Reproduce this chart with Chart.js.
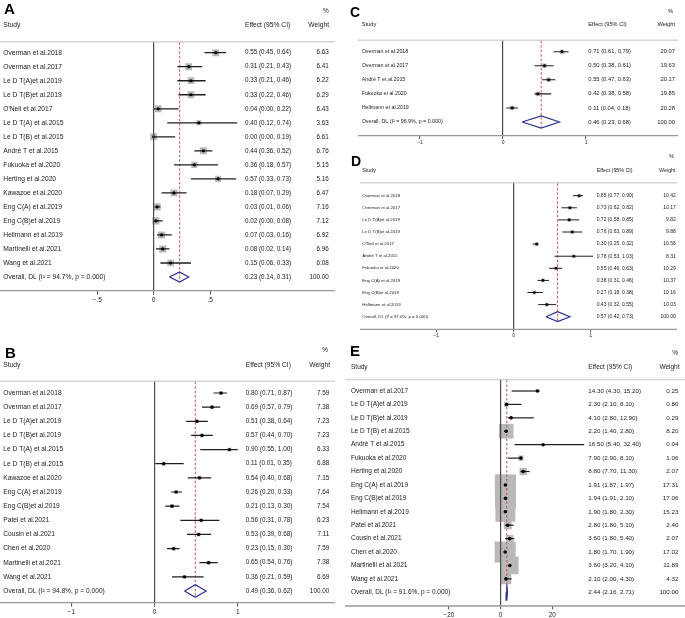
<!DOCTYPE html>
<html><head><meta charset="utf-8">
<script src="https://cdn.jsdelivr.net/npm/chart.js@4.4.1/dist/chart.umd.min.js"></script>
<style>
html,body{margin:0;padding:0;background:#fff;}
body{width:685px;height:618px;position:relative;overflow:hidden;}
canvas{position:absolute;}
</style>
</head><body>
<canvas id="cA" width="340" height="312" style="left:0px;top:0px"></canvas>
<canvas id="cB" width="340" height="303" style="left:0px;top:315px"></canvas>
<canvas id="cC" width="340" height="150" style="left:345px;top:0px"></canvas>
<canvas id="cD" width="340" height="192" style="left:345px;top:150px"></canvas>
<canvas id="cE" width="340" height="278" style="left:345px;top:340px"></canvas>
<script>
// ---------- DATA ----------
const studiesA = ["Overman et al.2018","Overman et al.2017","Le D T(A)et al.2019","Le D T(B)et al.2019","O'Neil et al.2017","Le D T(A) et al.2015","Le D T(B) et al.2015","André T et al.2015","Fukuoka et al.2020","Herting et al.2020","Kawazoe et al.2020","Eng C(A) et al.2019","Eng C(B)et al.2019","Hellmann et al.2019","Martinelli et al.2021","Wang et al.2021"];
const effectA = [0.55,0.31,0.33,0.33,0.04,0.40,0.00,0.44,0.36,0.57,0.18,0.03,0.02,0.07,0.08,0.15];
const lowerA  = [0.45,0.21,0.21,0.22,0.00,0.12,0.00,0.36,0.18,0.33,0.07,0.01,0.00,0.03,0.02,0.06];
const upperA  = [0.64,0.43,0.46,0.46,0.22,0.74,0.19,0.52,0.57,0.73,0.29,0.06,0.08,0.16,0.14,0.33];
const weightA = [6.63,6.41,6.22,6.29,6.43,3.63,6.61,6.76,5.15,5.16,6.47,7.16,7.12,6.92,6.96,6.08];
const overallA = [0.23,0.14,0.31]; const i2A = "94.7%"; const pA = "0.000";
const ticksA = [-0.5,0,0.5]; const tickLabelsA = ["\u2212.5","0",".5"];

const studiesB = ["Overman et al.2018","Overman et al.2017","Le D T(A)et al.2019","Le D T(B)et al.2019","Le D T(A) et al.2015","Le D T(B) et al.2015","Kawazoe et al.2020","Eng C(A) et al.2019","Eng C(B)et al.2019","Patel et al.2021","Cousin et al.2021","Chen et al.2020","Martinelli et al.2021","Wang et al.2021"];
const effectB = [0.80,0.69,0.51,0.57,0.90,0.11,0.54,0.26,0.21,0.56,0.53,0.23,0.65,0.36];
const lowerB  = [0.71,0.57,0.38,0.44,0.55,0.01,0.40,0.20,0.13,0.31,0.39,0.15,0.54,0.21];
const upperB  = [0.87,0.79,0.64,0.70,1.00,0.35,0.68,0.33,0.30,0.78,0.68,0.30,0.76,0.59];
const weightB = [7.59,7.38,7.23,7.23,6.33,6.88,7.15,7.64,7.54,6.23,7.11,7.59,7.38,6.69];
const overallB = [0.49,0.36,0.62]; const i2B = "94.8%"; const pB = "0.000";
const ticksB = [-1,0,1]; const tickLabelsB = ["\u22121","0","1"];

const studiesC = ["Overman et al.2018","Overman et al.2017","André T et al.2015","Fukuoka et al.2020","Hellmann et al.2019"];
const effectC = [0.71,0.50,0.55,0.42,0.11];
const lowerC  = [0.61,0.38,0.47,0.38,0.04];
const upperC  = [0.79,0.61,0.63,0.58,0.18];
const weightC = [20.07,19.63,20.17,19.85,20.28];
const overallC = [0.46,0.23,0.68]; const i2C = "96.9%"; const pC = "0.000";
const ticksC = [-1,0,1]; const tickLabelsC = ["\u22121","0","1"];

const studiesD = ["Overman et al.2018","Overman et al.2017","Le D T(A)et al.2019","Le D T(B)et al.2019","O'Neil et al.2017","André T et al.2015","Fukuoka et al.2020","Eng C(A) et al.2019","Eng C(B)et al.2019","Hellmann et al.2019"];
const effectD = [0.85,0.73,0.72,0.76,0.30,0.78,0.55,0.38,0.27,0.43];
const lowerD  = [0.77,0.62,0.58,0.63,0.25,0.53,0.46,0.31,0.18,0.32];
const upperD  = [0.90,0.82,0.85,0.89,0.32,1.03,0.63,0.46,0.38,0.55];
const weightD = [10.42,10.17,9.82,9.88,10.56,8.31,10.29,10.37,10.16,10.03];
const overallD = [0.57,0.42,0.73]; const i2D = "97.0%"; const pD = "0.000";
const ticksD = [-1,0,1]; const tickLabelsD = ["\u22121","0","1"];

const studiesE = ["Overman et al.2017","Le D T(A)et al.2019","Le D T(B)et al.2019","Le D T(B) et al.2015","André T et al.2015","Fukuoka et al.2020","Herting et al.2020","Eng C(A) et al.2019","Eng C(B)et al.2019","Hellmann et al.2019","Patel et al.2021","Cousin et al.2021","Chen et al.2020","Martinelli et al.2021","Wang et al.2021"];
const effectE = [14.30,2.30,4.10,2.20,16.50,7.90,8.80,1.91,1.94,1.90,2.80,3.60,1.80,3.60,2.10];
const lowerE  = [4.30,2.10,2.80,1.40,5.40,2.90,7.70,1.87,1.91,1.80,1.80,1.80,1.70,3.20,2.00];
const upperE  = [15.20,8.10,12.90,2.80,32.40,8.10,11.30,1.97,2.10,2.30,5.10,5.40,1.90,4.10,4.30];
const weightE = [0.25,0.80,0.29,8.20,0.04,1.06,2.07,17.31,17.06,15.23,2.40,2.07,17.02,11.89,4.32];
const overallE = [2.44,2.16,2.71]; const i2E = "91.6%"; const pE = "0.000";
const ticksE = [-20,0,20]; const tickLabelsE = ["\u221220","0","20"];

// ---------- LAYOUT (positions / styles only) ----------
const FONT = '"Liberation Sans", Arial, sans-serif';
const layouts = {
  A:{letter:'A', padL:0, padR:5, padT:42.3, axisH:21.3, xMin:-1.36, xMax:1.605, yMin:0.258, yMax:17.977,
     letterX:4, letterBase:14, letterSize:15, pctX:328.7, pctY:11, hdrY:25, nameX:3.3, effX:245, wX:328.7, wHdrX:329,
     nameSize:6.7, numSize:6.3, hdrSize:6.7, tickSize:6.5, tickLen:4, tickPad:2, boxK:2.7, dotR:1.6, ciW:1.3, dia:0.36},
  B:{letter:'B', padL:0, padR:5, padT:66.7, axisH:15.3, xMin:-1.857, xMax:2.169, yMin:0.201, yMax:15.827,
     letterX:5, letterBase:42.7, letterSize:15, pctX:328, pctY:35, hdrY:50, nameX:3.3, effX:245.7, wX:329.3, wHdrX:330,
     nameSize:6.65, numSize:6.36, hdrSize:6.7, tickSize:6.5, tickLen:4, tickPad:2, boxK:1.5, dotR:1.6, ciW:1.2, dia:0.45},
  C:{letter:'C', padL:13, padR:7, padT:40.7, axisH:14.3, xMin:-1.747, xMax:2.108, yMin:0.218, yMax:6.974,
     letterX:5, letterBase:16.7, letterSize:14, pctX:328, pctY:11, hdrY:24, nameX:16.7, effX:243.3, wX:330, wHdrX:330,
     nameSize:5.3, numSize:5.8, hdrSize:5.7, tickSize:5, tickLen:3.3, tickPad:0.5, boxK:1.0, dotR:1.4, ciW:1.1, dia:0.43},
  D:{letter:'D', padL:15, padR:8, padT:33.3, axisH:12.7, xMin:-1.986, xMax:2.115, yMin:-0.025, yMax:12.041,
     letterX:6, letterBase:15.5, letterSize:14, pctX:329, pctY:7, hdrY:21, nameX:17.3, effX:251.7, wX:330.7, wHdrX:330.5,
     nameSize:4.3, numSize:5.0, hdrSize:5.3, tickSize:4.8, tickLen:3, tickPad:0.5, boxK:1.2, dotR:1.3, ciW:1.0, dia:0.41},
  E:{letter:'E', padL:0, padR:0, padT:40, axisH:12, xMin:-60.2, xMax:71.43, yMin:0.18, yMax:17.02,
     letterX:5, letterBase:16, letterSize:15, pctX:333, pctY:13.3, hdrY:27.3, nameX:6, effX:243.3, wX:333.5, wHdrX:334.5,
     nameSize:6.5, numSize:6.25, hdrSize:6.5, tickSize:6.3, tickLen:3.5, tickPad:1.5, boxK:5.1, dotR:1.8, ciW:1.2, dia:0.58}
};

function fmt(v){ return v.toFixed(2); }

function makeForest(id, d, L) {
  const n = d.studies.length;
  const rows = d.studies.map((_, i) => i + 1);
  const oRow = n + 1;
  const [oe, olo, ohi] = d.overall;
  const datasets = [];
  // weight boxes
  datasets.push({type:'scatter', data: d.effect.map((v,i)=>({x:v, y:rows[i]})),
    pointStyle:'rect', backgroundColor:'#b9b9b9', borderWidth:0,
    pointRadius: ctx => L.boxK*Math.sqrt(d.weight[ctx.dataIndex])/Math.SQRT2,
    pointHoverRadius: ctx => L.boxK*Math.sqrt(d.weight[ctx.dataIndex])/Math.SQRT2,
    order:6});
  // confidence interval lines
  d.effect.forEach((v,i) => {
    datasets.push({type:'line', data:[{x:d.lower[i], y:rows[i]},{x:d.upper[i], y:rows[i]}],
      borderColor:'#1e1e1e', borderWidth:L.ciW, pointRadius:0, fill:false, order:3});
  });
  // overall reference (dashed)
  datasets.push({type:'line', data:[{x:oe, y:L.yMin},{x:oe, y:oRow + L.dia}],
    borderColor:'#c8504f', borderDash:[2.5,2], borderWidth:1, pointRadius:0, fill:false, order:5});
  // overall diamond
  datasets.push({type:'line', data:[{x:olo,y:oRow},{x:oe,y:oRow-L.dia},{x:ohi,y:oRow},{x:oe,y:oRow+L.dia},{x:olo,y:oRow}],
    borderColor:'#2b3290', borderWidth:1.2, pointRadius:0, fill:false, order:2});
  // point estimates
  datasets.push({type:'scatter', data: d.effect.map((v,i)=>({x:v, y:rows[i]})),
    pointStyle:'circle', backgroundColor:'#000', borderWidth:0, pointRadius:L.dotR, pointHoverRadius:L.dotR, order:1});

  const plugin = {
    id:'forestText'+id,
    beforeDatasetsDraw(chart){
      const {ctx, chartArea} = chart;
      ctx.save();
      ctx.strokeStyle = '#d4d4d4'; ctx.lineWidth = 1.5;
      ctx.beginPath(); ctx.moveTo(chartArea.left, chartArea.top - 0.5); ctx.lineTo(chartArea.right, chartArea.top - 0.5); ctx.stroke();
      ctx.restore();
    },
    afterDraw(chart){
      const {ctx, chartArea} = chart; const y = chart.scales.y;
      ctx.save();
      // axis baseline
      ctx.strokeStyle = '#9a9a9a'; ctx.lineWidth = 1.3;
      ctx.beginPath(); ctx.moveTo(chartArea.left, chartArea.bottom); ctx.lineTo(chartArea.right, chartArea.bottom); ctx.stroke();
      ctx.fillStyle = '#000'; ctx.textAlign = 'left'; ctx.textBaseline = 'alphabetic';
      ctx.font = `bold ${L.letterSize}px ${FONT}`;
      ctx.fillText(L.letter, L.letterX, L.letterBase);
      ctx.fillStyle = '#1a1a1a'; ctx.textBaseline = 'middle';
      ctx.font = `${L.hdrSize}px ${FONT}`;
      ctx.fillText('Study', L.nameX, L.hdrY);
      ctx.fillText('Effect (95% CI)', L.effX, L.hdrY);
      ctx.textAlign = 'right';
      ctx.fillText('Weight', L.wHdrX, L.hdrY);
      ctx.fillText('%', L.pctX, L.pctY);
      for (let i = 0; i <= n; i++) {
        const isO = i === n;
        const py = y.getPixelForValue(isO ? oRow : rows[i]);
        const label = isO ? `Overall, DL (I\u00B2 = ${d.i2}, p = ${d.p})` : d.studies[i];
        const e = isO ? oe : d.effect[i], lo = isO ? olo : d.lower[i], hi = isO ? ohi : d.upper[i];
        const w = isO ? 100 : d.weight[i];
        ctx.textAlign = 'left';
        ctx.font = `${L.nameSize}px ${FONT}`;
        ctx.fillText(label, L.nameX, py);
        ctx.font = `${L.numSize}px ${FONT}`;
        ctx.fillText(`${fmt(e)} (${fmt(lo)}, ${fmt(hi)})`, L.effX, py);
        ctx.textAlign = 'right';
        ctx.fillText(fmt(w), L.wX, py);
      }
      ctx.restore();
    }
  };

  return new Chart(document.getElementById(id), {
    type:'scatter',
    data:{datasets},
    plugins:[plugin],
    options:{
      responsive:false, animation:false, devicePixelRatio:1, events:[],
      layout:{autoPadding:false, padding:{left:L.padL, right:L.padR, top:L.padT, bottom:0}},
      plugins:{legend:{display:false}, tooltip:{enabled:false}, title:{display:false}},
      scales:{
        x:{type:'linear', min:L.xMin, max:L.xMax, offset:false,
          afterBuildTicks: s => { s.ticks = d.ticks.map(v => ({value:v})); },
          afterFit: s => { s.height = L.axisH; },
          ticks:{callback:(v,i) => d.tickLabels[i], font:{size:L.tickSize, family:FONT}, color:'#222',
                 padding:L.tickPad, maxRotation:0, minRotation:0, autoSkip:false},
          grid:{drawOnChartArea:true, z:1, lineWidth:1.2,
                color: ctx => (ctx.tick && ctx.tick.value === 0) ? '#4a4a4a' : 'rgba(0,0,0,0)',
                drawTicks:true, tickLength:L.tickLen, tickColor:'#555', tickWidth:1},
          border:{display:false}
        },
        y:{type:'linear', display:false, reverse:true, min:L.yMin, max:L.yMax, offset:false}
      }
    }
  });
}

makeForest('cA', {studies:studiesA, effect:effectA, lower:lowerA, upper:upperA, weight:weightA, overall:overallA, i2:i2A, p:pA, ticks:ticksA, tickLabels:tickLabelsA}, layouts.A);
makeForest('cB', {studies:studiesB, effect:effectB, lower:lowerB, upper:upperB, weight:weightB, overall:overallB, i2:i2B, p:pB, ticks:ticksB, tickLabels:tickLabelsB}, layouts.B);
makeForest('cC', {studies:studiesC, effect:effectC, lower:lowerC, upper:upperC, weight:weightC, overall:overallC, i2:i2C, p:pC, ticks:ticksC, tickLabels:tickLabelsC}, layouts.C);
makeForest('cD', {studies:studiesD, effect:effectD, lower:lowerD, upper:upperD, weight:weightD, overall:overallD, i2:i2D, p:pD, ticks:ticksD, tickLabels:tickLabelsD}, layouts.D);
makeForest('cE', {studies:studiesE, effect:effectE, lower:lowerE, upper:upperE, weight:weightE, overall:overallE, i2:i2E, p:pE, ticks:ticksE, tickLabels:tickLabelsE}, layouts.E);
</script>
</body></html>
